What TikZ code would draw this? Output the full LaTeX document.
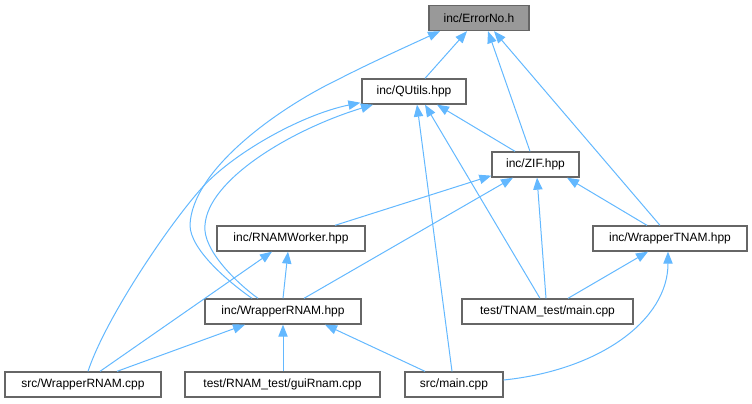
\documentclass[tikz,border=0pt]{standalone}
\usepackage{fontspec}
\setmainfont{Liberation Sans}
\usetikzlibrary{arrows.meta,calc}
\definecolor{edgec}{HTML}{63B8FF}
\definecolor{boxb}{HTML}{666666}
\definecolor{rootf}{HTML}{999999}
\begin{document}
\begin{tikzpicture}[x=0.75pt,y=-0.75pt,
  box/.style={draw=boxb, line width=1pt, fill=white, minimum height=18.75pt, inner sep=0pt, font=\fontsize{9}{11}\selectfont},
  rootbox/.style={box, fill=rootf},
  edge/.style={draw=edgec, line width=0.75pt, -{Triangle[length=9pt,width=7pt]}}]
\useasboundingbox (0,0) rectangle (752,403);
% nodes
\node[rootbox, minimum width=75pt]    (errorno) at (479,18)    {inc/ErrorNo.h};
\node[box, minimum width=78pt]        (qutils)  at (414,91.5)  {inc/QUtils.hpp};
\node[box, minimum width=65.25pt]     (zif)     at (535.5,164.5) {inc/ZIF.hpp};
\node[box, minimum width=111pt]       (rnamw)   at (291,238.5) {inc/RNAMWorker.hpp};
\node[box, minimum width=115.5pt]     (wtnam)   at (670,238.5) {inc/WrapperTNAM.hpp};
\node[box, minimum width=117pt]       (wrhpp)   at (283,311.5) {inc/WrapperRNAM.hpp};
\node[box, minimum width=128.25pt]    (tnam)    at (547.5,311.5) {test/TNAM\_test/main.cpp};
\node[box, minimum width=117pt]       (wrcpp)   at (83,384.5)  {src/WrapperRNAM.cpp};
\node[box, minimum width=146.25pt]    (gui)     at (282.5,384.5) {test/RNAM\_test/guiRnam.cpp};
\node[box, minimum width=73.5pt]      (mainc)   at (454,384.5) {src/main.cpp};
% edges to ErrorNo
\draw[edge] ($(qutils.north)+(11,0)$) -- ($(errorno.south)+(-12,0)$);
\draw[edge] ($(zif.north)+(-5.5,0)$) -- ($(errorno.south)+(9,0)$);
\draw[edge] ($(wtnam.north)+(-10,0)$) -- ($(errorno.south)+(15,0)$);
\draw[edge] ($(wrhpp.north)+(-31,0)$) .. controls (230,283) and (190,250) .. (190,225)
  .. controls (192,170) and (277,109) .. (337,80)
  .. controls (370,63) and (410,45) .. ($(errorno.south)+(-39,0)$);
% edges to QUtils
\draw[edge] ($(wrhpp.north)+(-25,0)$) .. controls (238,284) and (202,250) .. (205,225)
  .. controls (208,180) and (290,130) .. ($(qutils.south)+(-41,0)$);
\draw[edge] ($(wrcpp.north)+(5,0)$) .. controls (105,320) and (165,230) .. (200,190)
  .. controls (230,155) and (300,115) .. ($(qutils.south west)+(-1,-2)$);
\draw[edge] ($(zif.north)+(-20.5,0)$) -- ($(qutils.south)+(23,0)$);
\draw[edge] ($(tnam.north)+(-7.5,0)$) -- ($(qutils.south)+(11,0)$);
\draw[edge] ($(mainc.north)+(-2,0)$) -- ($(qutils.south)+(3,0)$);
% edges to ZIF
\draw[edge] ($(rnamw.north)+(44,0)$) -- ($(zif.south west)+(0,-2)$);
\draw[edge] ($(wrhpp.north)+(21,0)$) -- ($(zif.south)+(-22.5,0)$);
\draw[edge] ($(tnam.north)+(-1.5,0)$) -- ($(zif.south)+(1.5,0)$);
\draw[edge] ($(wtnam.north)+(-23,0)$) -- ($(zif.south)+(31.5,0)$);
% edges to RNAMWorker
\draw[edge] (wrhpp.north) -- ($(rnamw.south)+(-3,0)$);
\draw[edge] ($(wrcpp.north)+(17,0)$) -- ($(rnamw.south)+(-19,0)$);
% edges to WrapperTNAM
\draw[edge] ($(tnam.north)+(20.5,0)$) -- ($(wtnam.south)+(-22,0)$);
\draw[edge] ($(mainc.east)+(0,-4.5)$) .. controls (600,370) and (668,320) .. ($(wtnam.south)+(-2,0)$);
% edges to WrapperRNAM.hpp
\draw[edge] ($(wrcpp.north)+(34,0)$) -- ($(wrhpp.south)+(-38,0)$);
\draw[edge] ($(gui.north)+(0.5,0)$) -- (wrhpp.south);
\draw[edge] ($(mainc.north)+(-29,0)$) -- ($(wrhpp.south)+(42,0)$);
\end{tikzpicture}
\end{document}
